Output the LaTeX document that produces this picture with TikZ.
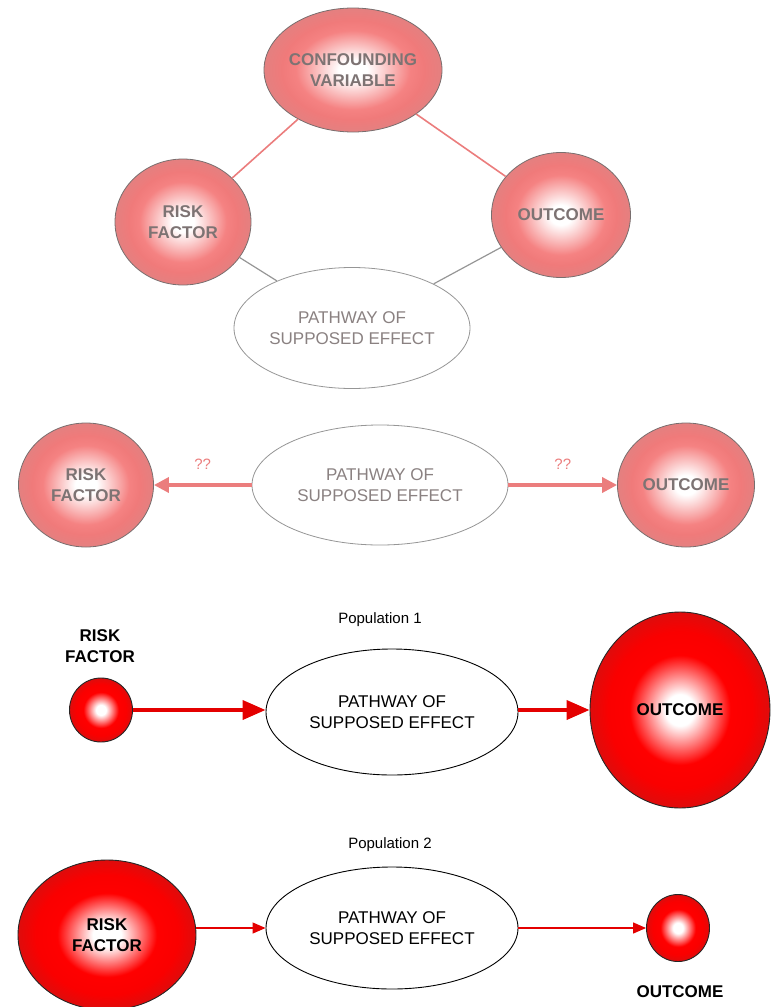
\documentclass[tikz,border=0pt]{standalone}
\usepackage{fontspec}
\setmainfont{Liberation Sans}
\usetikzlibrary{shapes.geometric,arrows.meta}
\definecolor{pinkA}{RGB}{245,130,130}
\definecolor{pinkB}{RGB}{240,122,122}
\definecolor{pinkC}{RGB}{228,128,128}
\definecolor{redA}{RGB}{255,0,0}
\definecolor{redB}{RGB}{250,0,0}
\definecolor{redC}{RGB}{222,12,12}
\definecolor{softtext}{RGB}{125,115,115}
\definecolor{softline}{RGB}{150,150,150}
\definecolor{softborder}{RGB}{120,110,110}
\definecolor{salmon}{RGB}{235,125,125}
\definecolor{arrowred}{RGB}{228,0,0}
\pgfdeclareradialshading{pinkball}{\pgfpoint{0bp}{0bp}}{color(0bp)=(white); color(4bp)=(white); color(16bp)=(pinkA); color(20bp)=(pinkB); color(25bp)=(pinkC); color(50bp)=(pinkC)}
\pgfdeclareradialshading{redball}{\pgfpoint{0bp}{0bp}}{color(0bp)=(white); color(4bp)=(white); color(14bp)=(redA); color(20bp)=(redB); color(25bp)=(redC); color(50bp)=(redC)}
\tikzset{
  softnode/.style={ellipse, draw=softborder, line width=0.8pt, shade, shading=pinkball,
    text=softtext, align=center, inner xsep=-40pt, inner ysep=0pt,
    font=\bfseries\fontsize{17}{21}\selectfont},
  rednode/.style={ellipse, draw=black!85, line width=0.9pt, shade, shading=redball,
    text=black, align=center, inner xsep=-40pt, inner ysep=0pt,
    font=\bfseries\fontsize{17}{21}\selectfont},
  softpath/.style={ellipse, draw=softline, line width=0.8pt, fill=white, text=softtext!90,
    align=center, inner xsep=-40pt, inner ysep=0pt, font=\fontsize{17}{21}\selectfont},
  blackpath/.style={ellipse, draw=black, line width=0.9pt, fill=white, text=black,
    align=center, inner xsep=-40pt, inner ysep=0pt, font=\fontsize{17}{21}\selectfont},
  biglabel/.style={align=center, font=\bfseries\fontsize{17}{21}\selectfont, text=black},
  poplabel/.style={font=\fontsize{15}{18}\selectfont, text=black},
  qq/.style={font=\fontsize{15}{18}\selectfont, text=salmon},
  pinkline/.style={draw=salmon, line width=1.6pt},
  grayline/.style={draw=softline, line width=1.2pt},
  midarrow/.style={draw=salmon, line width=3.4pt, -{Triangle[length=15pt,width=15pt]}},
  thickarrow/.style={draw=arrowred, line width=3.8pt, -{Triangle[length=23pt,width=19pt]}},
  thinarrow/.style={draw=arrowred, line width=1.3pt, -{Triangle[length=13pt,width=11pt]}}
}
\begin{document}
\begin{tikzpicture}[x=1pt,y=-1pt]
\useasboundingbox (0,0) rectangle (773,1007);

% ---------- top: confounding ----------
\node[softpath, minimum width=236pt, minimum height=121pt] (p1) at (352,328) {PATHWAY OF\\SUPPOSED EFFECT};
\node[softnode, minimum width=178pt, minimum height=124pt] (conf) at (353,70) {CONFOUNDING\\VARIABLE};
\node[softnode, minimum width=136pt, minimum height=126pt] (r1) at (183,222) {RISK\\FACTOR};
\node[softnode, minimum width=139pt, minimum height=125pt] (o1) at (561,215) {OUTCOME};
\draw[pinkline] (conf) -- (r1);
\draw[pinkline] (conf) -- (o1);
\draw[grayline] (r1) -- (p1);
\draw[grayline] (o1) -- (p1);

% ---------- middle: reverse ----------
\node[softpath, minimum width=256pt, minimum height=120pt] (p2) at (380,485) {PATHWAY OF\\SUPPOSED EFFECT};
\node[softnode, minimum width=135pt, minimum height=124pt] (r2) at (86,485) {RISK\\FACTOR};
\node[softnode, minimum width=137pt, minimum height=124pt] (o2) at (686,485) {OUTCOME};
\draw[midarrow] (p2.west) -- node[qq, midway, above=10pt] (q1) {??} (r2.east);
\draw[midarrow] (p2.east) -- node[qq, midway, above=10pt] (q2) {??} (o2.west);

% ---------- population 1 ----------
\node[poplabel] (pop1) at (380,620) {Population 1};
\node[biglabel] (rl3) at (100,646) {RISK\\FACTOR};
\node[rednode, minimum width=63pt, minimum height=64pt] (r3) at (101,710) {};
\node[blackpath, minimum width=252pt, minimum height=126pt] (p3) at (392,712) {PATHWAY OF\\SUPPOSED EFFECT};
\node[rednode, minimum width=180pt, minimum height=196pt] (o3) at (680,710) {OUTCOME};
\draw[thickarrow] (r3.east) -- (r3.east -| p3.west);
\draw[thickarrow] (p3.east |- o3.west) -- (o3.west);

% ---------- population 2 ----------
\node[poplabel] (pop2) at (390,845) {Population 2};
\node[rednode, minimum width=178pt, minimum height=150pt] (r4) at (107,935) {RISK\\FACTOR};
\node[blackpath, minimum width=252pt, minimum height=122pt] (p4) at (392,928) {PATHWAY OF\\SUPPOSED EFFECT};
\node[rednode, minimum width=63pt, minimum height=67pt] (o4) at (678,928) {};
\node[biglabel] (ol4) at (680,992) {OUTCOME};
\draw[thinarrow] (r4.east |- p4.west) -- (p4.west);
\draw[thinarrow] (p4.east) -- (o4.west);
\end{tikzpicture}
\end{document}
